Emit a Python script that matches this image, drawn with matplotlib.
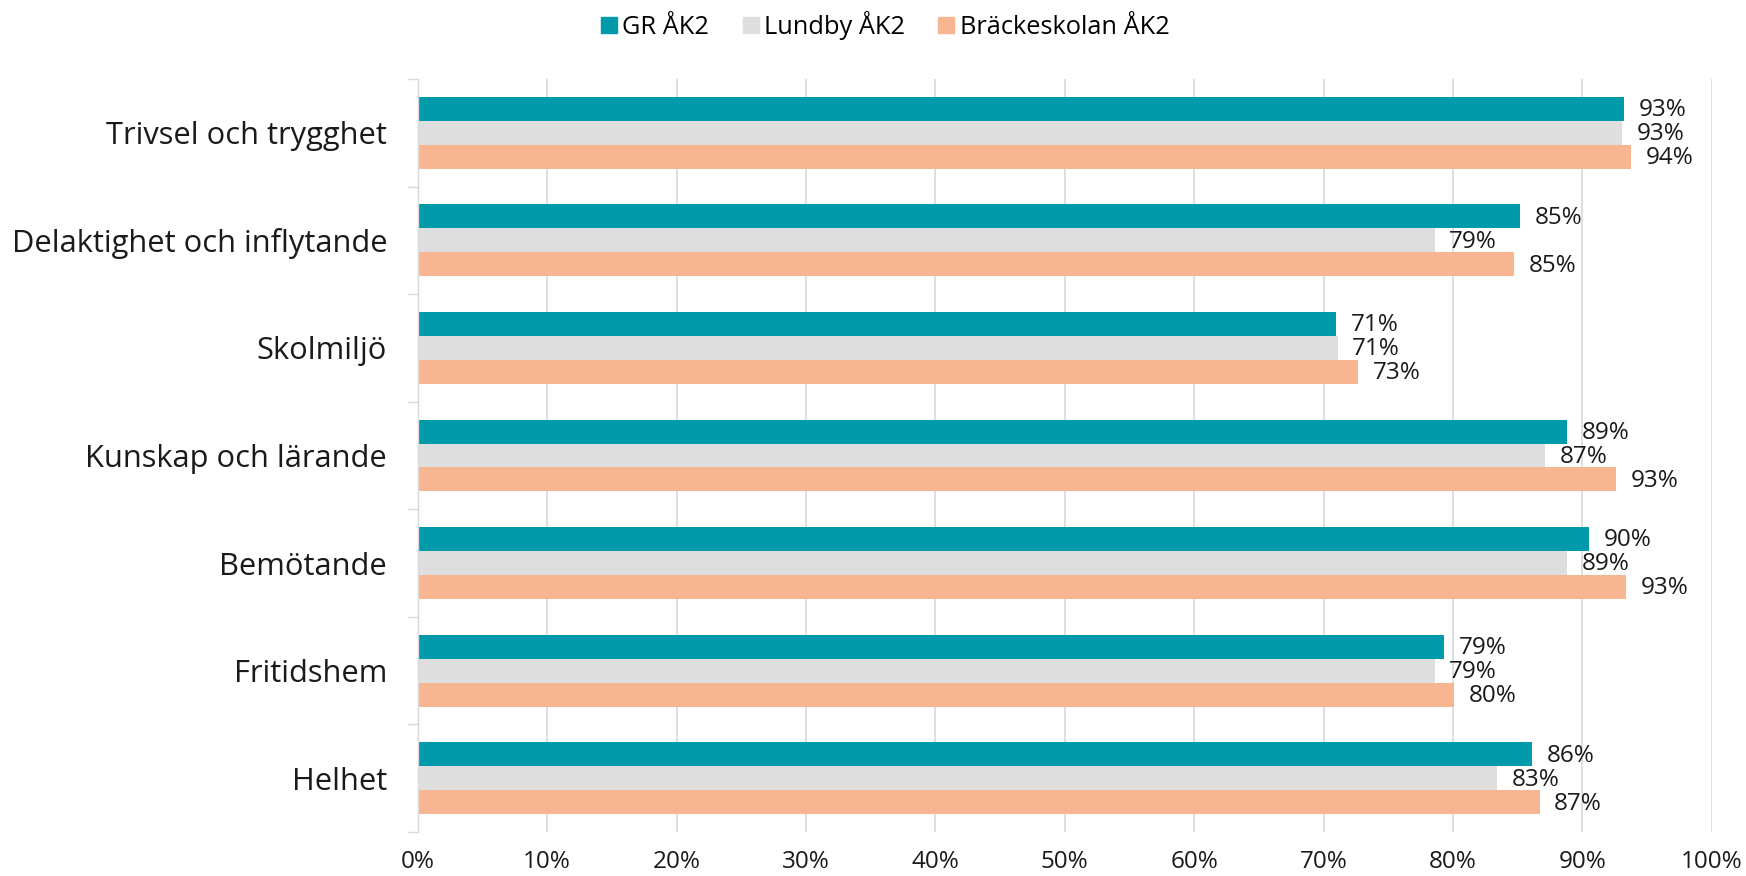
import matplotlib
matplotlib.use("Agg")
import matplotlib.pyplot as plt
from matplotlib.lines import Line2D
import numpy as np

plt.rcParams['font.family'] = ['Open Sans', 'DejaVu Sans']

categories = ["Trivsel och trygghet", "Delaktighet och inflytande", "Skolmiljö",
              "Kunskap och lärande", "Bemötande", "Fritidshem", "Helhet"]
series_names = ["GR ÅK2", "Lundby ÅK2", "Bräckeskolan ÅK2"]
gr = [93.2, 85.2, 71.0, 88.8, 90.5, 79.3, 86.1]
lundby = [93.1, 78.6, 71.1, 87.1, 88.8, 78.6, 83.4]
bracke = [93.8, 84.7, 72.7, 92.6, 93.4, 80.1, 86.7]
x_ticks = [0, 10, 20, 30, 40, 50, 60, 70, 80, 90, 100]

colors = ["#019AAA", "#DEDEDE", "#F8B592"]
grid_c = "#D9D9D9"

W, H = 1746, 876
fig = plt.figure(figsize=(W / 100, H / 100), dpi=100)
ax = fig.add_axes([417.7 / W, 1 - 832 / H, (1711.7 - 417.7) / W, (832 - 79) / H])

n = len(categories)
yc = np.arange(n) + 0.5
bh = 0.223
for k, (vals, col) in enumerate(zip([gr, lundby, bracke], colors)):
    ys = yc + (k - 1) * bh
    ax.barh(ys, vals, height=bh, color=col, zorder=3)
    for y, v in zip(ys, vals):
        ax.annotate(f"{round(v)}%", (v, y), xytext=(10.5, -1), textcoords="offset points",
                    ha="left", va="center", fontsize=17.5, color="#1a1a1a", zorder=4)

ax.set_xlim(0, 100)
ax.set_ylim(n, 0)
ax.set_xticks(x_ticks)
ax.set_xticklabels([f"{t}%" for t in x_ticks], fontsize=17.5, color="#1a1a1a")
ax.tick_params(axis="x", length=0, pad=13)
ax.set_yticks(yc)
ax.set_yticklabels(categories, fontsize=22.2, color="#1a1a1a")
ax.set_yticks(np.arange(n + 1), minor=True)
ax.tick_params(axis="y", which="major", length=0, pad=22)
ax.tick_params(axis="y", which="minor", length=7.2, width=1.0, color=grid_c)
ax.grid(axis="x", color=grid_c, linewidth=1.2, zorder=0)
for s in ["top", "right", "bottom"]:
    ax.spines[s].set_visible(False)
ax.spines["left"].set_color(grid_c)
ax.spines["left"].set_linewidth(1.0)
ax.spines["left"].set_zorder(5)

handles = [Line2D([], [], marker="s", linestyle="none", markersize=11,
                  markerfacecolor=c, markeredgecolor=c) for c in colors]
fig.legend(handles, series_names, loc="center", bbox_to_anchor=(885 / W, 1 - 25 / H),
           ncol=3, frameon=False, fontsize=18.3, handlelength=0.65, handletextpad=0.2,
           columnspacing=1.3)

fig.savefig("out.png", dpi=100)
